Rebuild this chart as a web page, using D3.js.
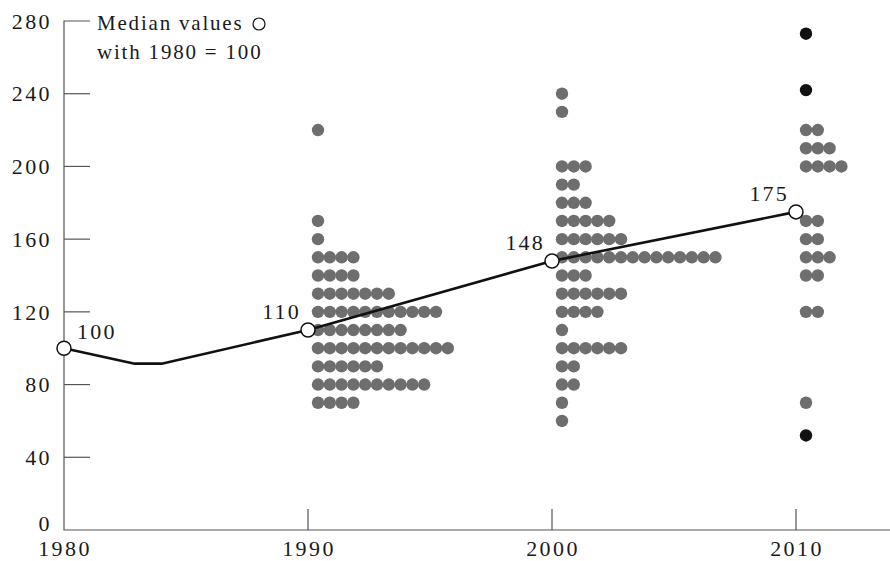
<!DOCTYPE html>
<html>
<head>
<meta charset="utf-8">
<script src="https://cdn.jsdelivr.net/npm/d3@7"></script>
<style>
  body { margin: 0; background: #fff; }
  text { font-family: "Liberation Serif", "Times New Roman", serif; fill: #1a1a1a; }
  .tick-label { font-size: 22px; letter-spacing: 2.4px; }
  .legend { font-size: 21px; letter-spacing: 1.8px; }
  .median-label { font-size: 22px; letter-spacing: 2.2px; }
  .axis-line { stroke: #555; stroke-width: 1.2; fill: none; }
</style>
</head>
<body>
<div id="chart"></div>
<script>
// ============== Data ==============
const years = [1980, 1990, 2000, 2010];
const medians = [100, 110, 148, 175];

// median line, incl. the dip after 1980
const pathYears = [1980, 1982.9, 1984, 1990, 2000, 2010];
const pathValues = [100, 91.5, 91.5, 110, 148, 175];

const yTicks = [0, 40, 80, 120, 160, 200, 240, 280];

// dot rows: [value, number of dots]
const dots1990 = [[220, 1], [170, 1], [160, 1], [150, 4], [140, 4], [130, 7], [120, 11],
  [110, 8], [100, 12], [90, 6], [80, 10], [70, 4]];
const dots2000 = [[240, 1], [230, 1], [200, 3], [190, 2], [180, 3], [170, 5], [160, 6],
  [150, 14], [140, 3], [130, 6], [120, 4], [110, 1], [100, 6], [90, 2], [80, 2], [70, 1], [60, 1]];
const dots2010 = [[220, 2], [210, 3], [200, 4], [170, 2], [160, 2], [150, 3], [140, 2],
  [120, 2], [70, 1]];
const outliers2010 = [273, 242, 52];

const width = 890, height = 561;

const svg = d3.select('#chart')
  .append('svg')
  .attr('width', width)
  .attr('height', height);

// ============== Scales ==============
const x = d3.scaleLinear().domain([1980, 2010]).range([64, 796]);
const y = d3.scaleLinear().domain([0, 280]).range([530, 21]);

const dotStep = 11.8, dotOffset = 10, dotR = 6.2;

// ============== Axes ==============
svg.append('path')
  .attr('class', 'axis-line')
  .attr('d', `M${x(1980) + 26},${y(280)}H${x(1980)}V${y(0)}H${width}`);

svg.selectAll('.y-tick')
  .data(yTicks.filter(d => d > 0 && d < 280))
  .enter()
  .append('line')
  .attr('class', 'axis-line y-tick')
  .attr('x1', x(1980))
  .attr('x2', x(1980) + 26)
  .attr('y1', d => y(d))
  .attr('y2', d => y(d));

svg.selectAll('.y-label')
  .data(yTicks)
  .enter()
  .append('text')
  .attr('class', 'tick-label y-label')
  .attr('x', 52)
  .attr('y', d => y(d) - (d === 0 ? 7 : 0))
  .attr('dy', '0.35em')
  .attr('text-anchor', 'end')
  .text(d => d);

svg.selectAll('.x-tick')
  .data(years.slice(1))
  .enter()
  .append('line')
  .attr('class', 'axis-line x-tick')
  .attr('x1', d => x(d))
  .attr('x2', d => x(d))
  .attr('y1', y(0))
  .attr('y2', y(0) - 21);

svg.selectAll('.x-label')
  .data(years)
  .enter()
  .append('text')
  .attr('class', 'tick-label x-label')
  .attr('x', d => x(d) + 1)
  .attr('y', 556)
  .attr('text-anchor', 'middle')
  .text(d => d);

// ============== Dots ==============
function rowsToDots(year, rows) {
  const out = [];
  rows.forEach(([v, n]) => {
    for (let i = 0; i < n; i++) out.push({ year, v, i });
  });
  return out;
}
const allDots = [].concat(
  rowsToDots(1990, dots1990),
  rowsToDots(2000, dots2000),
  rowsToDots(2010, dots2010)
);

svg.selectAll('.dot')
  .data(allDots)
  .enter()
  .append('circle')
  .attr('class', 'dot')
  .attr('cx', d => x(d.year) + dotOffset + d.i * dotStep)
  .attr('cy', d => y(d.v))
  .attr('r', dotR)
  .attr('fill', '#6e6e6e');

svg.selectAll('.outlier')
  .data(outliers2010)
  .enter()
  .append('circle')
  .attr('class', 'outlier')
  .attr('cx', x(2010) + dotOffset)
  .attr('cy', d => y(d))
  .attr('r', dotR)
  .attr('fill', '#111');

// ============== Median line ==============
const line = d3.line()
  .x((d, i) => x(pathYears[i]))
  .y(d => y(d))
  .curve(d3.curveLinear);

svg.append('path')
  .datum(pathValues)
  .attr('d', line)
  .attr('fill', 'none')
  .attr('stroke', '#111')
  .attr('stroke-width', 2.6)
  .attr('stroke-linejoin', 'round');

svg.selectAll('.median')
  .data(medians)
  .enter()
  .append('circle')
  .attr('class', 'median')
  .attr('cx', (d, i) => x(years[i]))
  .attr('cy', d => y(d))
  .attr('r', 7)
  .attr('fill', '#fff')
  .attr('stroke', '#111')
  .attr('stroke-width', 1.5);

svg.selectAll('.median-label')
  .data(medians)
  .enter()
  .append('text')
  .attr('class', 'median-label')
  .attr('x', (d, i) => i === 0 ? x(years[i]) + 13 : x(years[i]) - 7)
  .attr('y', (d, i) => y(d) - (i === 0 ? 9 : 11))
  .attr('text-anchor', (d, i) => i === 0 ? 'start' : 'end')
  .text(d => d);

// ============== Legend ==============
svg.append('text')
  .attr('class', 'legend')
  .attr('x', 97)
  .attr('y', 30)
  .text('Median values');

svg.append('circle')
  .attr('cx', 259)
  .attr('cy', 24)
  .attr('r', 6)
  .attr('fill', '#fff')
  .attr('stroke', '#111')
  .attr('stroke-width', 1.2);

svg.append('text')
  .attr('class', 'legend')
  .attr('x', 97)
  .attr('y', 59)
  .text('with 1980 = 100');
</script>
</body>
</html>
